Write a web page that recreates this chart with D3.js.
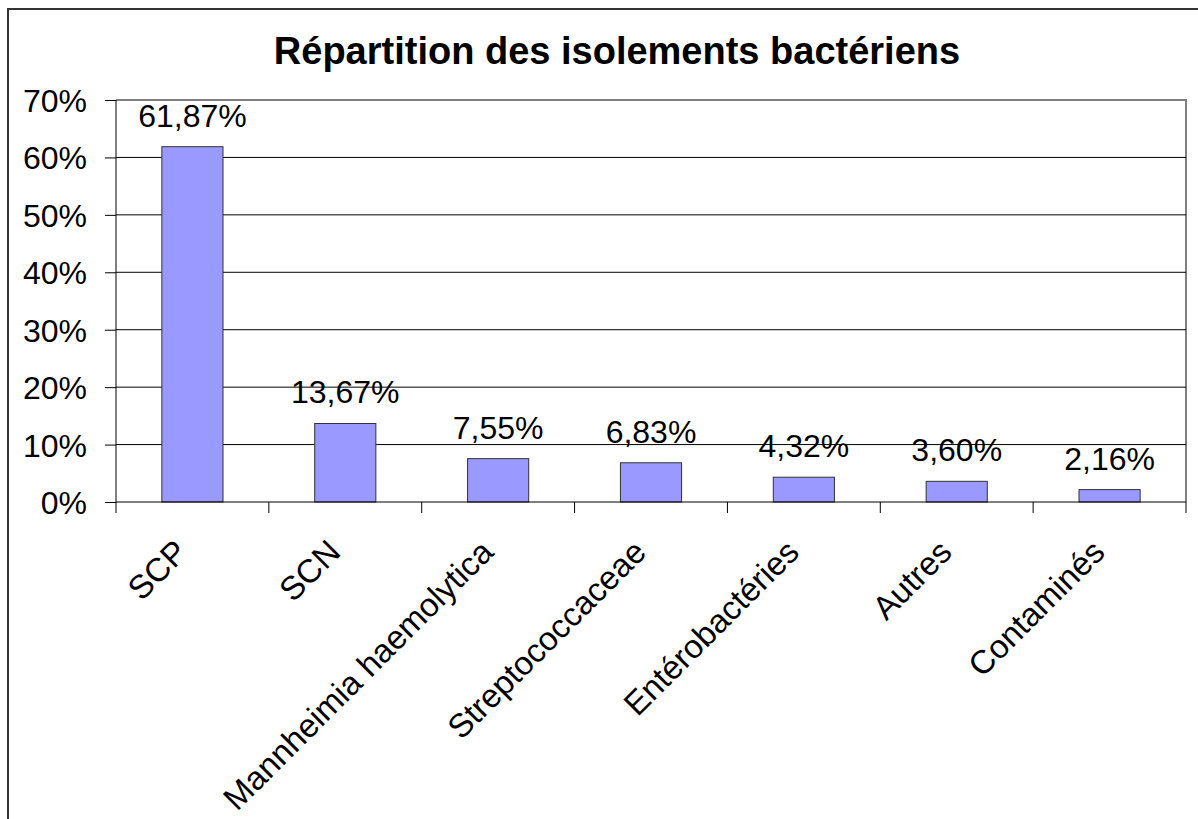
<!DOCTYPE html>
<html>
<head>
<meta charset="utf-8">
<script src="https://cdn.jsdelivr.net/npm/d3@7"></script>
<style>
  body { margin: 0; background: #fff; }
  text { font-family: Arial, "Liberation Sans", sans-serif; fill: #000; }
</style>
</head>
<body>
<div id="chart"></div>
<script>
const categories = ['SCP', 'SCN', 'Mannheimia haemolytica', 'Streptococcaceae', 'Entérobactéries', 'Autres', 'Contaminés'];
const values = [61.87, 13.67, 7.55, 6.83, 4.32, 3.60, 2.16];
const yTicks = [0, 10, 20, 30, 40, 50, 60, 70];
const title = 'Répartition des isolements bactériens';

const W = 1198, H = 819;
const plot = { left: 116, top: 100, right: 1186, bottom: 502 };

const svg = d3.select('#chart').append('svg')
  .attr('width', W)
  .attr('height', H);

// outer chart frame (runs past the window on right and bottom)
svg.append('rect')
  .attr('x', 8).attr('y', 9)
  .attr('width', 1300).attr('height', 900)
  .attr('fill', 'none')
  .attr('stroke', '#333')
  .attr('stroke-width', 2);

svg.append('text')
  .attr('x', 617).attr('y', 64)
  .attr('text-anchor', 'middle')
  .style('font-size', '38px')
  .style('font-weight', 'bold')
  .text(title);

const x = d3.scaleBand()
  .domain(categories)
  .range([plot.left, plot.right])
  .paddingInner(0.6)
  .paddingOuter(0.3);

const y = d3.scaleLinear()
  .domain([0, 70])
  .range([plot.bottom, plot.top]);

// plot area border, top + right in gray
svg.append('path')
  .attr('d', `M${plot.left},${plot.top}H${plot.right}V${plot.bottom}`)
  .attr('fill', 'none')
  .attr('stroke', '#808080')
  .attr('stroke-width', 2);

// gridlines
svg.append('g')
  .selectAll('line')
  .data(yTicks.filter(d => d > 0 && d < 70))
  .join('line')
  .attr('x1', plot.left).attr('x2', plot.right)
  .attr('y1', d => y(d)).attr('y2', d => y(d))
  .attr('stroke', '#000')
  .attr('stroke-width', 1);

// y axis
const yAxis = d3.axisLeft(y)
  .tickValues(yTicks)
  .tickSize(11)
  .tickPadding(18)
  .tickFormat(d => d + '%');

const gy = svg.append('g')
  .attr('transform', `translate(${plot.left},0)`)
  .call(yAxis);
gy.select('.domain').attr('stroke', '#000').attr('d', `M0,${plot.top}V${plot.bottom}`);
gy.selectAll('.tick text')
  .style('font-size', '32px')
  .attr('dy', '0.36em')
  .style('font-family', 'Arial, "Liberation Sans", sans-serif');

// bars
svg.append('g')
  .selectAll('rect')
  .data(values)
  .join('rect')
  .attr('x', (d, i) => x(categories[i]))
  .attr('y', d => y(d))
  .attr('width', x.bandwidth())
  .attr('height', d => y(0) - y(d))
  .attr('fill', '#9999FF')
  .attr('stroke', '#333')
  .attr('stroke-width', 1);

// value labels
svg.append('g')
  .selectAll('text')
  .data(values)
  .join('text')
  .attr('x', (d, i) => x(categories[i]) + x.bandwidth() / 2)
  .attr('y', d => y(d) - 20)
  .attr('text-anchor', 'middle')
  .style('font-size', '32px')
  .text(d => d.toFixed(2).replace('.', ',') + '%');

// x axis line, ticks at category boundaries
const step = (plot.right - plot.left) / categories.length;
const gx = svg.append('g');
gx.append('line')
  .attr('x1', plot.left).attr('x2', plot.right)
  .attr('y1', plot.bottom).attr('y2', plot.bottom)
  .attr('stroke', '#000');
gx.selectAll('line.tick')
  .data(d3.range(categories.length + 1))
  .join('line')
  .attr('class', 'tick')
  .attr('x1', i => plot.left + i * step)
  .attr('x2', i => plot.left + i * step)
  .attr('y1', plot.bottom)
  .attr('y2', plot.bottom + 11)
  .attr('stroke', '#000');

// rotated category labels
gx.selectAll('text')
  .data(categories)
  .join('text')
  .attr('text-anchor', 'end')
  .attr('transform', d => {
    const cx = x(d) + x.bandwidth() / 2;
    return `translate(${cx - 3},${plot.bottom + 52}) rotate(-45)`;
  })
  .style('font-size', '33px')
  .text(d => d);
</script>
</body>
</html>
